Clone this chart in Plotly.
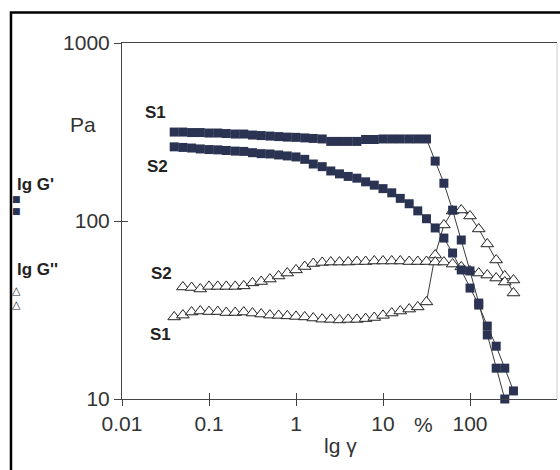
import plotly.graph_objects as go

# shear strain (%) grid, 10 points per decade
strain = [0.0398, 0.0501, 0.0631, 0.0794, 0.1, 0.126, 0.158, 0.2, 0.251, 0.316,
          0.398, 0.501, 0.631, 0.794, 1.0, 1.26, 1.58, 2.0, 2.51, 3.16,
          3.98, 5.01, 6.31, 7.94, 10.0, 12.6, 15.8, 20.0, 25.1, 31.6,
          39.8, 50.1, 63.1, 79.4, 100.0, 126.0, 158.0, 200.0, 251.0, 316.0]

# storage modulus G' (Pa)
s1_gp = [316, 316, 314, 314, 312, 312, 310, 308, 308, 304,
         302, 300, 298, 296, 295, 293, 291, 289, 280, 280,
         280, 280, 287, 287, 289, 289, 289, 289, 289, 289,
         217, 163, 115, 78.2, 52.4, 34.6, 22.9, 14.9, 10.0]
s2_gp = [261, 259, 257, 254, 252, 251, 249, 247, 246, 242,
         239, 238, 235, 232, 229, 222, 209, 202, 191, 184,
         178, 174, 166, 159, 152, 144, 134, 125, 114, 103,
         91.4, 80.2, 66.1, 53.1, 42.0, 33.7, 25.7, 19.8, 14.9, 11.1]

# loss modulus G'' (Pa)
s1_gpp = [28.9, 29.6, 30.8, 31.2, 31.0, 31.0, 30.6, 30.6, 30.8, 30.4,
          30.0, 29.6, 29.5, 29.3, 29.1, 28.9, 28.5, 28.1, 28.0, 27.8,
          28.0, 28.0, 28.3, 28.7, 29.5, 30.4, 31.2, 32.0, 32.9, 35.1,
          64.4, 95.0, 113.8, 115.3, 106.7, 90.2, 74.3, 60.4, 49.1, 39.4]
s2_gpp = [42.6, 42.3, 41.5, 42.9, 42.9, 42.9, 42.9, 43.2, 44.9,
          45.7, 47.2, 49.1, 51.0, 53.1, 55.5, 57.7, 58.5, 58.8, 58.8,
          58.8, 59.2, 59.2, 59.6, 59.6, 59.6, 59.6, 59.2, 59.2, 59.2,
          58.8, 58.8, 57.3, 55.2, 52.4, 51.0, 49.7, 47.8, 45.4, 46.6]

x_ticks = [0.01, 0.1, 1, 10, 100]
x_ticktext = ["0.01", "0.1", "1", "10", "100"]
y_ticks = [10, 100, 1000]
y_ticktext = ["10", "100", "1000"]

NAVY = "#2a3352"
LINE = "#3a3a3a"
TXT = "#333333"

fig = go.Figure()

tri = dict(symbol="triangle-up", size=11, color="white", line=dict(color="#222222", width=1))
sq = dict(symbol="square", size=9, color=NAVY, line=dict(width=0))

fig.add_trace(go.Scatter(x=strain[:len(s1_gpp)], y=s1_gpp, mode="lines+markers",
                         line=dict(color=LINE, width=1), marker=tri, cliponaxis=False,
                         name="S1 G''"))
fig.add_trace(go.Scatter(x=strain[1:1 + len(s2_gpp)], y=s2_gpp, mode="lines+markers",
                         line=dict(color=LINE, width=1), marker=tri, cliponaxis=False,
                         name="S2 G''"))
fig.add_trace(go.Scatter(x=strain[:len(s2_gp)], y=s2_gp, mode="lines+markers",
                         line=dict(color=LINE, width=1), marker=sq, cliponaxis=False,
                         name="S2 G'"))
fig.add_trace(go.Scatter(x=strain[:len(s1_gp)], y=s1_gp, mode="lines+markers",
                         line=dict(color=LINE, width=1), marker=sq, cliponaxis=False,
                         name="S1 G'"))
# dummy trace for overlay axes (inner half of crossing ticks)
fig.add_trace(go.Scatter(x=[], y=[], xaxis="x2", yaxis="y2", showlegend=False))

tickfont = dict(family="Liberation Sans, Arial, sans-serif", size=21, color=TXT)

fig.update_layout(
    width=560, height=470,
    margin=dict(l=122, r=3, t=43, b=71),
    paper_bgcolor="white", plot_bgcolor="white",
    showlegend=False,
    xaxis=dict(type="log", range=[-2, 3], showgrid=False, zeroline=False,
               showline=True, linecolor="#444", linewidth=1, mirror=True,
               ticks="outside", ticklen=6, tickcolor="#444",
               tickvals=x_ticks, ticktext=x_ticktext, tickfont=tickfont),
    yaxis=dict(type="log", range=[1, 3], showgrid=False, zeroline=False,
               showline=True, linecolor="#444", linewidth=1,
               ticks="outside", ticklen=7, tickcolor="#444",
               tickvals=y_ticks, ticktext=y_ticktext, tickfont=tickfont),
    xaxis2=dict(type="log", range=[-2, 3], overlaying="x", anchor="y", side="bottom",
                showgrid=False, zeroline=False, showline=False,
                ticks="inside", ticklen=6, tickcolor="#444",
                tickvals=x_ticks[1:], showticklabels=False),
    yaxis2=dict(type="log", range=[1, 3], overlaying="y", anchor="x", side="left",
                showgrid=False, zeroline=False, showline=False,
                ticks="inside", ticklen=6, tickcolor="#444",
                tickvals=[100], showticklabels=False),
)

# outer frame and faint right border
fig.add_shape(type="rect", xref="paper", yref="paper",
              x0=-0.2552, x1=1.3, y0=-0.4, y1=1.0857,
              line=dict(color="black", width=2.5), layer="below")
fig.add_shape(type="line", xref="paper", yref="paper",
              x0=1, x1=1, y0=0, y1=1, line=dict(color="#cfcfcf", width=1))

labfont = dict(family="Liberation Sans, Arial, sans-serif", size=21, color=TXT)
boldfont = dict(family="Liberation Sans, Arial, sans-serif", size=17, color="#222")
sqfont = dict(family="DejaVu Sans", size=9, color=NAVY)
trifont = dict(family="DejaVu Sans", size=11, color="#222")

ann = [
    dict(text="Pa", x=-0.0897, y=0.7697, font=labfont),
    dict(text="<b>S1</b>", x=0.0759, y=0.8034, font=boldfont),
    dict(text="<b>S2</b>", x=0.0805, y=0.6517, font=boldfont),
    dict(text="<b>S2</b>", x=0.0897, y=0.3539, font=boldfont),
    dict(text="<b>S1</b>", x=0.0874, y=0.1798, font=boldfont),
    dict(text="<b>lg G'</b>", x=-0.246, y=0.6039, font=boldfont, xanchor="left"),
    dict(text="<b>lg G''</b>", x=-0.246, y=0.3624, font=boldfont, xanchor="left"),
    dict(text="■<br>■", x=-0.2414, y=0.5463, font=sqfont),
    dict(text="△<br>△", x=-0.2414, y=0.2865, font=trifont),
    dict(text="%", x=0.692, y=-0.073, font=labfont),
    dict(text="lg γ", x=0.5034, y=-0.132, font=labfont),
]
for a in ann:
    a.setdefault("xanchor", "center")
    fig.add_annotation(xref="paper", yref="paper", showarrow=False, yanchor="middle", **a)

fig.write_html("out.html")
